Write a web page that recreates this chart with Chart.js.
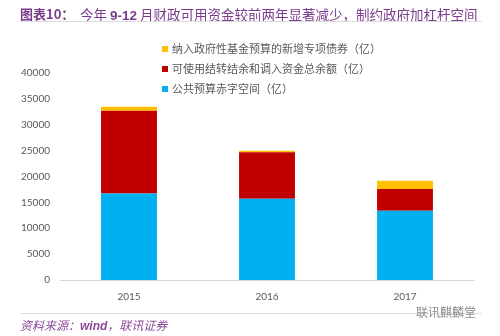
<!DOCTYPE html>
<html>
<head>
<meta charset="utf-8">
<script src="https://cdn.jsdelivr.net/npm/chart.js@4"></script>
<style>
  body { margin: 0; background: #fff; font-family: "Noto Sans CJK SC", sans-serif; }
  #wrap { position: relative; width: 500px; height: 336px; overflow: hidden; }
  #chart { position: absolute; left: 0; top: 0; }
  .title { position: absolute; top: 4px; color: #7a3b8c; white-space: nowrap; }
  #titleNo { left: 20px; font-size: 13px; font-weight: bold; }
  #titleText { left: 80px; font-size: 13.5px; }
  #titleText b { font-family: "Liberation Sans", sans-serif; }
  .rule { position: absolute; left: 20px; width: 462px; height: 1px; background: #dcdcdc; }
  #legend { position: absolute; left: 162px; top: 40px; font-size: 11px; color: #595959; }
  #legend div { height: 20px; line-height: 16px; white-space: nowrap; }
  #legend span { display: inline-block; width: 6px; height: 6px; margin-right: 4px; vertical-align: 1px; }
  #source { position: absolute; left: 20px; top: 316px; font-size: 12px; font-style: italic; color: #8a4a9a; }
  #source i { font-family: "Liberation Sans", sans-serif; font-weight: bold; }
  #mark { position: absolute; left: 416px; top: 303px; font-size: 12px; color: #8c8c8c; }
</style>
</head>
<body>
<div id="wrap">
  <canvas id="chart" width="500" height="336"></canvas>
  <div class="title" id="titleNo">图表10：</div>
  <div class="title" id="titleText">今年 <b>9-12</b> 月财政可用资金较前两年显著减少，制约政府加杠杆空间</div>
  <div class="rule" style="top:21px"></div>
  <div id="legend"></div>
  <div class="rule" style="top:313px"></div>
  <div id="source">资料来源：<i>wind</i>，联讯证券</div>
  <div id="mark">联讯麒麟堂</div>
</div>
<script>
const years = ['2015', '2016', '2017'];
const deficitSpace = [16700, 15700, 13400];
const carryOver = [16000, 9000, 4200];
const specialBonds = [800, 300, 1600];
const yTicks = [0, 5000, 10000, 15000, 20000, 25000, 30000, 35000, 40000];

const seriesNames = ['公共预算赤字空间（亿）', '可使用结转结余和调入资金总余额（亿）', '纳入政府性基金预算的新增专项债券（亿）'];
const seriesColors = ['#00b0f0', '#c00000', '#ffc000'];
const seriesData = [deficitSpace, carryOver, specialBonds];

const tickFont = { family: 'Lato', size: 10 };

const chart = new Chart(document.getElementById('chart'), {
  type: 'bar',
  data: {
    labels: years,
    datasets: seriesData.map((d, i) => ({
      label: seriesNames[i],
      data: d,
      backgroundColor: seriesColors[i],
      borderWidth: 0,
      barPercentage: 0.405,
      categoryPercentage: 1
    }))
  },
  options: {
    responsive: false,
    animation: false,
    layout: { padding: { top: 73, right: 26, left: 0, bottom: 0 } },
    plugins: { legend: { display: false }, tooltip: { enabled: false } },
    scales: {
      x: {
        stacked: true,
        grid: { display: false, drawTicks: false },
        border: { color: '#d9d9d9', width: 1 },
        ticks: { color: '#595959', font: tickFont, padding: 11 },
        afterFit: s => { s.height = 56; }
      },
      y: {
        stacked: true,
        min: 0,
        max: 40000,
        afterBuildTicks: s => { s.ticks = yTicks.map(v => ({ value: v })); },
        grid: { display: false, drawTicks: false },
        border: { display: false },
        ticks: { color: '#595959', font: tickFont, padding: 10, callback: v => String(v) },
        afterFit: s => { s.width = 60; }
      }
    }
  }
});

// legend, top item = last series, like the original
const legendEl = document.getElementById('legend');
chart.data.datasets.slice().reverse().forEach(ds => {
  const row = document.createElement('div');
  row.innerHTML = `<span style="background:${ds.backgroundColor}"></span>${ds.label}`;
  legendEl.appendChild(row);
});
</script>
</body>
</html>
